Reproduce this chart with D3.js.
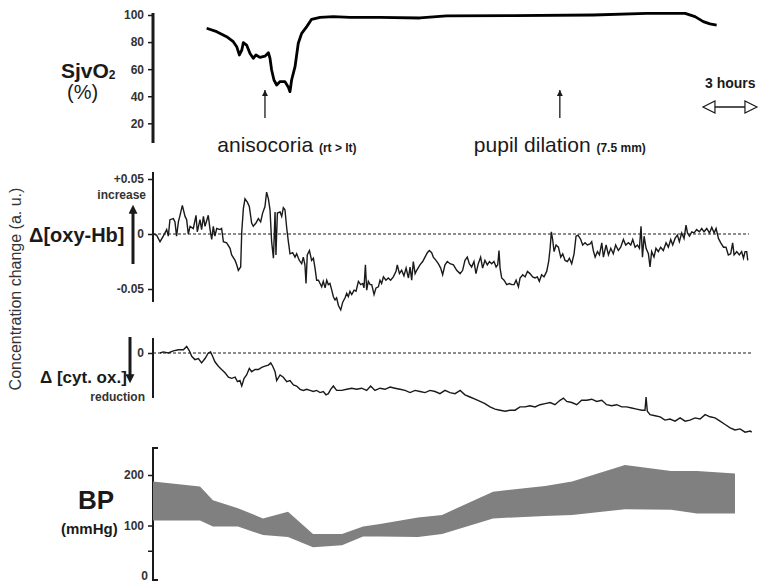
<!DOCTYPE html>
<html>
<head>
<meta charset="utf-8">
<script src="https://cdn.jsdelivr.net/npm/d3@7"></script>
<style>
  body { margin: 0; background: #fff; }
  svg { display: block; font-family: "Liberation Sans", Arial, sans-serif; }
</style>
</head>
<body>
<svg id="chart" width="760" height="583"></svg>
<script>
// time in hours from the start of the record
const sjvO2 = [[2.98,90.2],[3.54,87.7],[4.09,84.0],[4.46,80.3],[4.65,76.6],[4.80,70.5],[4.93,74.0],[5.02,79.6],[5.20,77.8],[5.39,71.6],[5.57,68.0],[5.72,70.5],[5.94,68.7],[6.22,69.6],[6.41,72.2],[6.50,68.0],[6.59,59.4],[6.72,52.0],[6.87,48.3],[7.06,50.8],[7.33,50.8],[7.52,46.6],[7.61,43.4],[7.70,52.0],[7.89,61.8],[8.07,79.1],[8.26,86.5],[8.54,91.4],[8.81,96.8],[9.28,98.3],[10.02,98.8],[10.94,98.3],[12.61,98.3],[14.83,97.8],[16.31,99.3],[20.02,99.5],[24.46,100.0],[27.43,101.2],[29.56,101.2],[30.11,98.8],[30.57,95.1],[30.94,93.4],[31.31,92.6]];

const oxyHb = [[0.02,0.000],[0.20,-0.001],[0.39,-0.007],[0.57,-0.002],[0.76,0.004],[0.85,-0.002],[0.94,0.013],[1.13,0.014],[1.22,0.011],[1.31,-0.002],[1.41,0.011],[1.50,0.017],[1.63,0.026],[1.78,0.016],[1.87,0.013],[1.96,0.000],[2.06,0.007],[2.24,0.005],[2.39,0.017],[2.46,0.002],[2.61,0.013],[2.70,0.004],[2.80,0.016],[2.89,0.007],[3.07,0.017],[3.17,0.004],[3.26,-0.005],[3.35,0.007],[3.44,-0.002],[3.54,0.005],[3.72,0.004],[3.81,0.005],[3.91,-0.007],[4.09,-0.008],[4.28,-0.013],[4.37,-0.019],[4.56,-0.024],[4.65,-0.028],[4.74,-0.033],[4.87,-0.030],[4.93,0.002],[5.02,0.023],[5.11,0.032],[5.24,0.029],[5.35,0.025],[5.48,0.010],[5.57,0.007],[5.72,0.010],[5.85,0.014],[5.98,0.011],[6.09,0.019],[6.22,0.025],[6.31,0.038],[6.41,0.032],[6.50,0.022],[6.59,-0.007],[6.69,-0.022],[6.78,0.020],[6.83,-0.019],[6.91,0.019],[7.06,0.020],[7.15,0.016],[7.24,0.024],[7.33,0.022],[7.43,0.005],[7.52,-0.007],[7.61,-0.018],[7.76,-0.017],[7.89,-0.021],[7.98,-0.018],[8.13,-0.024],[8.26,-0.027],[8.35,-0.021],[8.44,-0.028],[8.50,-0.045],[8.57,-0.019],[8.69,-0.015],[8.81,-0.024],[8.91,-0.022],[9.00,-0.031],[9.09,-0.042],[9.19,-0.042],[9.28,-0.045],[9.37,-0.048],[9.46,-0.043],[9.56,-0.049],[9.65,-0.042],[9.74,-0.046],[9.83,-0.045],[9.93,-0.051],[10.02,-0.057],[10.11,-0.060],[10.20,-0.058],[10.30,-0.065],[10.43,-0.069],[10.54,-0.062],[10.67,-0.058],[10.76,-0.054],[10.85,-0.057],[10.94,-0.052],[11.04,-0.055],[11.17,-0.051],[11.28,-0.052],[11.41,-0.043],[11.54,-0.046],[11.65,-0.045],[11.72,-0.049],[11.80,-0.028],[11.87,-0.051],[11.96,-0.043],[12.06,-0.046],[12.15,-0.046],[12.28,-0.055],[12.39,-0.049],[12.52,-0.048],[12.61,-0.042],[12.70,-0.045],[12.80,-0.039],[12.94,-0.042],[13.07,-0.040],[13.20,-0.042],[13.35,-0.039],[13.50,-0.034],[13.57,-0.028],[13.69,-0.036],[13.81,-0.033],[13.94,-0.038],[14.06,-0.031],[14.19,-0.040],[14.28,-0.030],[14.37,-0.042],[14.46,-0.025],[14.56,-0.036],[14.65,-0.033],[14.83,-0.028],[14.98,-0.025],[15.11,-0.021],[15.24,-0.017],[15.35,-0.015],[15.48,-0.017],[15.57,-0.021],[15.72,-0.024],[15.85,-0.027],[15.98,-0.031],[16.09,-0.037],[16.22,-0.028],[16.35,-0.025],[16.50,-0.027],[16.69,-0.028],[16.87,-0.033],[17.06,-0.036],[17.20,-0.033],[17.33,-0.024],[17.46,-0.021],[17.57,-0.027],[17.70,-0.030],[17.83,-0.025],[17.94,-0.036],[18.07,-0.027],[18.20,-0.021],[18.31,-0.031],[18.44,-0.024],[18.57,-0.028],[18.69,-0.025],[18.81,-0.027],[18.94,-0.025],[19.06,-0.030],[19.15,-0.028],[19.22,-0.015],[19.28,-0.031],[19.37,-0.040],[19.50,-0.042],[19.65,-0.046],[19.80,-0.045],[19.93,-0.046],[20.06,-0.046],[20.17,-0.042],[20.30,-0.048],[20.39,-0.040],[20.54,-0.037],[20.67,-0.039],[20.80,-0.034],[20.94,-0.036],[21.09,-0.039],[21.22,-0.040],[21.35,-0.039],[21.46,-0.043],[21.59,-0.037],[21.72,-0.039],[21.87,-0.034],[21.98,-0.025],[22.06,-0.013],[22.13,0.002],[22.20,-0.005],[22.28,-0.016],[22.39,-0.010],[22.52,-0.012],[22.65,-0.021],[22.76,-0.018],[22.89,-0.024],[23.02,-0.025],[23.13,-0.022],[23.26,-0.027],[23.39,-0.018],[23.50,-0.002],[23.61,-0.001],[23.76,-0.005],[23.87,-0.010],[24.00,-0.008],[24.13,-0.010],[24.28,-0.009],[24.37,-0.007],[24.46,-0.015],[24.56,-0.021],[24.69,-0.016],[24.80,-0.019],[24.93,-0.008],[25.02,-0.021],[25.17,-0.010],[25.30,-0.019],[25.43,-0.013],[25.57,-0.018],[25.70,-0.010],[25.85,-0.015],[25.98,-0.012],[26.13,-0.005],[26.26,-0.010],[26.41,-0.008],[26.54,-0.010],[26.65,-0.005],[26.78,-0.012],[26.91,-0.010],[27.02,-0.013],[27.11,0.007],[27.19,-0.021],[27.28,-0.002],[27.39,-0.013],[27.52,-0.018],[27.61,-0.030],[27.70,-0.016],[27.83,-0.021],[27.94,-0.013],[28.07,-0.016],[28.20,-0.012],[28.35,-0.015],[28.50,-0.008],[28.63,-0.012],[28.76,-0.005],[28.87,-0.010],[29.00,-0.004],[29.13,-0.001],[29.24,-0.007],[29.37,0.001],[29.50,-0.004],[29.61,0.008],[29.69,0.001],[29.80,-0.002],[29.93,0.002],[30.06,0.001],[30.20,0.004],[30.35,0.002],[30.48,0.005],[30.61,0.002],[30.76,0.005],[30.91,0.001],[31.04,0.006],[31.17,0.001],[31.28,0.005],[31.41,-0.004],[31.54,-0.008],[31.69,-0.012],[31.83,-0.012],[31.96,-0.019],[32.09,-0.018],[32.20,-0.008],[32.28,-0.019],[32.43,-0.016],[32.57,-0.019],[32.70,-0.016],[32.80,-0.022],[32.89,-0.016],[32.98,-0.016],[33.04,-0.024]];

const cytOx = [[0.39,0.000],[0.57,0.001],[0.85,0.000],[1.13,0.002],[1.41,0.003],[1.69,0.003],[1.87,0.006],[2.02,0.002],[2.15,-0.003],[2.33,-0.006],[2.52,-0.005],[2.70,-0.009],[2.89,-0.005],[3.07,0.000],[3.20,0.001],[3.31,-0.003],[3.44,-0.008],[3.63,-0.012],[3.81,-0.015],[4.00,-0.018],[4.19,-0.022],[4.37,-0.023],[4.56,-0.022],[4.69,-0.026],[4.83,-0.025],[4.93,-0.030],[5.06,-0.023],[5.20,-0.020],[5.35,-0.014],[5.48,-0.017],[5.67,-0.015],[5.85,-0.015],[6.04,-0.013],[6.22,-0.012],[6.41,-0.011],[6.54,-0.009],[6.65,-0.012],[6.78,-0.017],[6.87,-0.025],[7.06,-0.020],[7.24,-0.022],[7.43,-0.026],[7.61,-0.025],[7.80,-0.029],[7.98,-0.030],[8.17,-0.033],[8.35,-0.034],[8.54,-0.033],[8.72,-0.034],[8.91,-0.035],[9.09,-0.034],[9.28,-0.036],[9.46,-0.035],[9.61,-0.038],[9.74,-0.037],[9.87,-0.033],[10.02,-0.030],[10.20,-0.034],[10.48,-0.034],[10.76,-0.033],[11.04,-0.032],[11.31,-0.033],[11.59,-0.032],[11.87,-0.034],[12.09,-0.030],[12.33,-0.034],[12.61,-0.032],[12.89,-0.033],[13.17,-0.031],[13.44,-0.032],[13.72,-0.033],[14.00,-0.034],[14.28,-0.036],[14.56,-0.034],[14.83,-0.035],[15.11,-0.036],[15.39,-0.034],[15.67,-0.035],[15.94,-0.037],[16.22,-0.034],[16.50,-0.036],[16.78,-0.037],[17.06,-0.034],[17.33,-0.038],[17.61,-0.040],[17.89,-0.042],[18.17,-0.044],[18.44,-0.046],[18.72,-0.049],[19.00,-0.051],[19.28,-0.052],[19.56,-0.053],[19.83,-0.052],[20.11,-0.052],[20.39,-0.049],[20.67,-0.049],[20.94,-0.048],[21.22,-0.049],[21.50,-0.047],[21.78,-0.046],[22.06,-0.045],[22.33,-0.047],[22.61,-0.043],[22.80,-0.041],[22.98,-0.044],[23.26,-0.045],[23.54,-0.047],[23.81,-0.043],[24.09,-0.043],[24.37,-0.042],[24.65,-0.044],[24.93,-0.043],[25.20,-0.047],[25.48,-0.048],[25.76,-0.047],[26.04,-0.049],[26.31,-0.049],[26.59,-0.050],[26.87,-0.051],[27.15,-0.052],[27.33,-0.052],[27.39,-0.040],[27.46,-0.053],[27.61,-0.056],[27.89,-0.057],[28.17,-0.058],[28.44,-0.061],[28.72,-0.060],[29.00,-0.062],[29.28,-0.059],[29.56,-0.062],[29.83,-0.061],[30.11,-0.059],[30.39,-0.060],[30.67,-0.056],[30.94,-0.058],[31.22,-0.059],[31.50,-0.062],[31.78,-0.065],[32.06,-0.068],[32.33,-0.070],[32.61,-0.069],[32.89,-0.072],[33.17,-0.071],[33.26,-0.072]];

const bpTime = [0, 2.61, 3.33, 4.72, 6.11, 7.5, 8.89, 10.5, 11.67, 12.61, 14.72, 16.06, 18.89, 21.78, 23.28, 26.22, 28.78, 30.22, 32.33];
const bpSystolic = [187, 177, 150, 134, 114, 127, 83, 83, 98, 103, 116, 121, 167, 178, 187, 220, 208, 208, 203];
const bpDiastolic = [110, 110, 98, 98, 81, 77, 57, 61, 78, 78, 77, 83, 114, 119, 121, 132, 131, 124, 124];

const sjTicks = [20, 40, 60, 80, 100];
const oxyTicks = [-0.05, 0, 0.05];
const oxyTickLabels = ['-0.05', '0', '+0.05'];
const bpTicks = [50, 100, 200];
const bpTickLabels = ['', '100', '200'];

const events = [
  { t: 6.22, label: 'anisocoria', note: '(rt > lt)' },
  { t: 22.6, label: 'pupil dilation', note: '(7.5 mm)' }
];
const scaleBar = { t: 30.55, hours: 3, label: '3 hours' };

const svg = d3.select('#chart');
const ink = '#1a1a1a';

const x = d3.scaleLinear().domain([0, 33.33]).range([153, 753]);
const ySj = d3.scaleLinear().domain([0, 100]).range([150.4, 15]);
const yOxy = d3.scaleLinear().domain([-0.05, 0.05]).range([289, 179]);
const yCyt = d3.scaleLinear().domain([-0.05, 0]).range([408, 353]);
const yBP = d3.scaleLinear().domain([0, 200]).range([576, 475]);

const defs = svg.append('defs');
defs.append('marker')
  .attr('id', 'headSmall')
  .attr('viewBox', '0 0 10 10')
  .attr('refX', 10).attr('refY', 5)
  .attr('markerWidth', 6).attr('markerHeight', 6)
  .attr('markerUnits', 'userSpaceOnUse')
  .attr('orient', 'auto')
  .append('path').attr('d', 'M0,0L10,5L0,10Z').attr('fill', ink);
defs.append('marker')
  .attr('id', 'headBig')
  .attr('viewBox', '0 0 10 10')
  .attr('refX', 2).attr('refY', 5)
  .attr('markerWidth', 10).attr('markerHeight', 9)
  .attr('markerUnits', 'userSpaceOnUse')
  .attr('orient', 'auto')
  .append('path').attr('d', 'M0,0L10,5L0,10Z').attr('fill', ink);

// axis helper: ticks from d3, the vertical rule drawn by hand so it can overhang
function leftAxis(scale, ticks, labels, top, bottom, size, weight, sw) {
  const g = svg.append('g')
    .attr('transform', 'translate(153,0)')
    .call(d3.axisLeft(scale).tickValues(ticks).tickSize(5).tickPadding(4)
      .tickFormat((d, i) => labels ? labels[i] : d));
  g.select('.domain').remove();
  g.selectAll('.tick line').attr('stroke', ink).attr('stroke-width', 1.5);
  g.selectAll('.tick text')
    .attr('fill', '#333')
    .style('font-family', '"Liberation Sans", Arial, sans-serif')
    .style('font-size', size + 'px')
    .style('font-weight', weight);
  g.append('line')
    .attr('y1', top).attr('y2', bottom)
    .attr('stroke', ink).attr('stroke-width', sw);
  return g;
}

// ---- SjvO2 ----
leftAxis(ySj, sjTicks, null, 13, 143, 12, 'bold', 3);

svg.append('path')
  .datum(sjvO2)
  .attr('fill', 'none')
  .attr('stroke', '#000')
  .attr('stroke-width', 2.8)
  .attr('stroke-linejoin', 'round')
  .attr('d', d3.line().x(d => x(d[0])).y(d => ySj(d[1])));

const sjLabel = svg.append('text')
  .attr('x', 61).attr('y', 78)
  .attr('font-size', 21).attr('font-weight', 'bold').attr('fill', ink);
sjLabel.append('tspan').text('SjvO');
sjLabel.append('tspan').attr('font-size', 12).attr('dy', 1).text('2');
svg.append('text')
  .attr('x', 67).attr('y', 99)
  .attr('font-size', 20).attr('fill', ink)
  .text('(%)');

// event arrows + captions
const labelShift = [22, 0];
events.forEach((e, i) => {
  const ex = x(e.t);
  svg.append('line')
    .attr('x1', ex).attr('x2', ex)
    .attr('y1', 118).attr('y2', 90)
    .attr('stroke', ink).attr('stroke-width', 1.3)
    .attr('marker-end', 'url(#headSmall)');
  const t = svg.append('text')
    .attr('x', ex + labelShift[i]).attr('y', 152)
    .attr('text-anchor', 'middle').attr('fill', ink);
  t.append('tspan').attr('font-size', 21).text(e.label + ' ');
  t.append('tspan').attr('font-size', 12).attr('font-weight', 'bold').text(e.note);
});

// 3 hours scale bar
const sb0 = x(scaleBar.t), sb1 = x(scaleBar.t + scaleBar.hours);
svg.append('text')
  .attr('x', sb0 + 2).attr('y', 88)
  .attr('font-size', 14).attr('font-weight', 'bold').attr('fill', ink)
  .text(scaleBar.label);
svg.append('line')
  .attr('x1', sb0 + 11).attr('x2', sb1 - 11)
  .attr('y1', 107).attr('y2', 107)
  .attr('stroke', ink).attr('stroke-width', 1.3);
svg.append('path')
  .attr('d', `M${sb0},107L${sb0 + 12},101L${sb0 + 12},113Z M${sb1},107L${sb1 - 12},101L${sb1 - 12},113Z`)
  .attr('fill', '#fff').attr('stroke', ink).attr('stroke-width', 1.2);

// ---- oxy-Hb ----
leftAxis(yOxy, oxyTicks, oxyTickLabels, 172, 302, 12, 'bold', 2);

svg.append('line')
  .attr('x1', 153).attr('x2', 749)
  .attr('y1', yOxy(0)).attr('y2', yOxy(0))
  .attr('stroke', ink).attr('stroke-width', 1.2)
  .attr('stroke-dasharray', '3,2');

svg.append('path')
  .datum(oxyHb)
  .attr('fill', 'none')
  .attr('stroke', ink)
  .attr('stroke-width', 1.4)
  .attr('d', d3.line().x(d => x(d[0])).y(d => yOxy(d[1])));

svg.append('text')
  .attr('x', 146).attr('y', 199)
  .attr('text-anchor', 'end')
  .attr('font-size', 12).attr('font-weight', 'bold').attr('fill', '#333')
  .text('increase');
svg.append('line')
  .attr('x1', 133).attr('x2', 133)
  .attr('y1', 264).attr('y2', 212)
  .attr('stroke', ink).attr('stroke-width', 3)
  .attr('marker-end', 'url(#headBig)');
svg.append('text')
  .attr('x', 29).attr('y', 242)
  .attr('font-size', 20).attr('font-weight', 'bold').attr('fill', ink)
  .text('\u0394[oxy-Hb]');

// ---- cyt. ox. ----
leftAxis(yCyt, [0], ['0'], 338, 398, 12, 'bold', 2);

svg.append('line')
  .attr('x1', 153).attr('x2', 752)
  .attr('y1', yCyt(0)).attr('y2', yCyt(0))
  .attr('stroke', ink).attr('stroke-width', 1.2)
  .attr('stroke-dasharray', '3,2');

svg.append('path')
  .datum(cytOx)
  .attr('fill', 'none')
  .attr('stroke', ink)
  .attr('stroke-width', 1.4)
  .attr('d', d3.line().x(d => x(d[0])).y(d => yCyt(d[1])));

svg.append('line')
  .attr('x1', 130).attr('x2', 130)
  .attr('y1', 337).attr('y2', 376)
  .attr('stroke', ink).attr('stroke-width', 3)
  .attr('marker-end', 'url(#headBig)');
svg.append('text')
  .attr('x', 40).attr('y', 383)
  .attr('font-size', 17).attr('font-weight', 'bold').attr('fill', ink)
  .text('\u0394 [cyt. ox.]');
svg.append('text')
  .attr('x', 145).attr('y', 401)
  .attr('text-anchor', 'end')
  .attr('font-size', 12).attr('font-weight', 'bold').attr('fill', '#333')
  .text('reduction');

svg.append('text')
  .attr('transform', 'translate(21,289) rotate(-90)')
  .attr('text-anchor', 'middle')
  .attr('font-size', 16).attr('fill', '#333')
  .text('Concentration change (a. u.)');

// ---- BP ----
const bpAxis = leftAxis(yBP, bpTicks, bpTickLabels, 448, 580, 12, 'bold', 2);
bpAxis.append('path')
  .attr('d', `M5,448H0V580H5`)
  .attr('fill', 'none').attr('stroke', ink).attr('stroke-width', 2);
svg.append('text')
  .attr('x', 148).attr('y', yBP(0) + 4)
  .attr('text-anchor', 'end')
  .attr('font-size', 12).attr('font-weight', 'bold').attr('fill', '#333')
  .text('0');

const bp = bpTime.map((t, i) => ({ t, hi: bpSystolic[i], lo: bpDiastolic[i] }));
svg.append('path')
  .datum(bp)
  .attr('fill', '#808080')
  .attr('d', d3.area().x(d => x(d.t)).y0(d => yBP(d.lo)).y1(d => yBP(d.hi)));

svg.append('text')
  .attr('x', 78).attr('y', 509)
  .attr('font-size', 26).attr('font-weight', 'bold').attr('fill', ink)
  .text('BP');
svg.append('text')
  .attr('x', 61).attr('y', 534)
  .attr('font-size', 15).attr('font-weight', 'bold').attr('fill', ink)
  .text('(mmHg)');
</script>
</body>
</html>
